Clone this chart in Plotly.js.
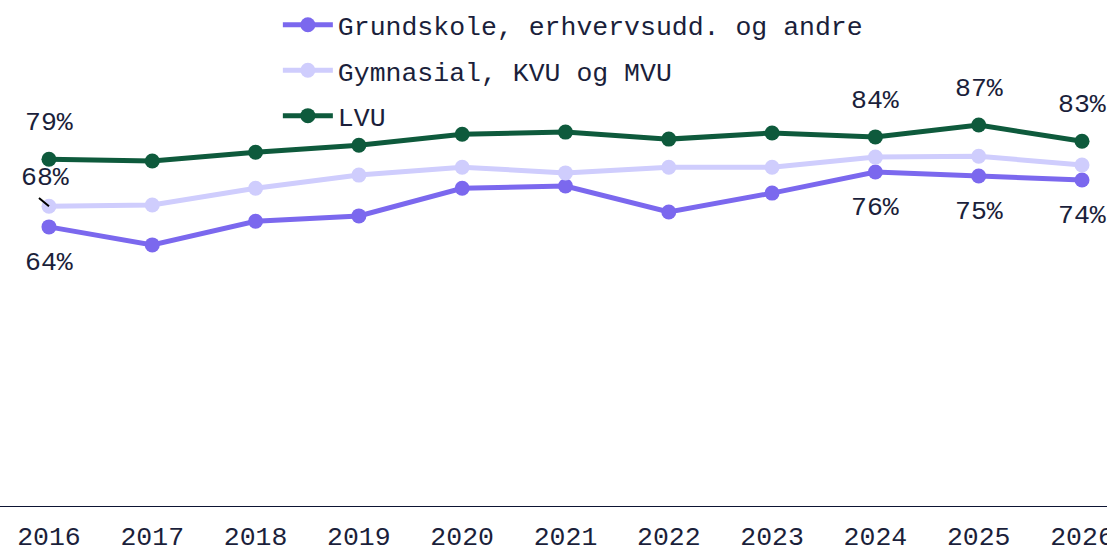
<!DOCTYPE html>
<html>
<head>
<meta charset="utf-8">
<script src="https://cdn.plot.ly/plotly-3.0.1.min.js"></script>
<style>html,body{margin:0;padding:0;background:#fff;}#chart{width:1107px;height:547px;}</style>
</head>
<body>
<div id="chart"></div>
<script>
var years = [2016, 2017, 2018, 2019, 2020, 2021, 2022, 2023, 2024, 2025, 2026];
var seriesNames = ["Grundskole, erhvervsudd. og andre", "Gymnasial, KVU og MVU", "LVU"];
var grundskole = [63.6, 59.5, 64.9, 66.1, 72.4, 72.9, 67.0, 71.3, 76.1, 75.2, 74.3];
var gymnasial = [68.3, 68.6, 72.4, 75.4, 77.2, 75.9, 77.2, 77.2, 79.5, 79.7, 77.7];
var lvu = [79.0, 78.6, 80.6, 82.2, 84.7, 85.2, 83.6, 85.0, 84.1, 86.8, 83.1];
var colors = ["#7b68ee", "#cfcdfd", "#0e5a3c"];
var labelledIdx = [0, 8, 9, 10];

var FONT = "Liberation Mono, Courier New, monospace";
var FS = 26.5;
var TXT = "#1b1f3b";

var series = [grundskole, gymnasial, lvu];
var traces = series.map(function (vals, i) {
  return {
    x: years, y: vals, name: seriesNames[i], type: "scatter", mode: "lines+markers",
    legendgroup: "g" + i,
    line: {color: colors[i], width: 5},
    marker: {color: colors[i], size: 15},
    hoverinfo: "skip"
  };
});

var annotations = [];
function pct(v) { return Math.round(v) + "%"; }
labelledIdx.forEach(function (k) {
  annotations.push({x: years[k], y: lvu[k], text: pct(lvu[k]), showarrow: false, yshift: 36,
    font: {family: FONT, size: FS, color: TXT}});
  annotations.push({x: years[k], y: grundskole[k], text: pct(grundskole[k]), showarrow: false, yshift: -36,
    font: {family: FONT, size: FS, color: TXT}});
});
annotations.push({x: years[0], y: gymnasial[0], text: pct(gymnasial[0]), showarrow: false,
  xshift: -4, yshift: 28, font: {family: FONT, size: FS, color: TXT}});
annotations.push({x: years[0], y: gymnasial[0], text: " ", showarrow: true, arrowhead: 0,
  arrowwidth: 2, arrowcolor: "#000000", ax: -12, ay: -10, font: {size: 1}});

var layout = {
  width: 1107, height: 547,
  margin: {l: 0, r: 0, t: 0, b: 41},
  paper_bgcolor: "#ffffff", plot_bgcolor: "#ffffff",
  font: {family: FONT, size: FS, color: TXT},
  showlegend: true,
  legend: {x: 0.251, y: 0.998, xanchor: "left", yanchor: "top", bgcolor: "rgba(0,0,0,0)",
    traceorder: "grouped", tracegroupgap: 8,
    font: {family: FONT, size: FS, color: TXT}, itemwidth: 50},
  xaxis: {range: [2015.526, 2026.242], tickvals: years, ticktext: years.map(String),
    showgrid: false, zeroline: false, showline: true, linecolor: "#0d1433", linewidth: 1,
    ticks: "", ticklabelstandoff: 6, ticklabeloverflow: "allow",
    tickfont: {family: FONT, size: FS, color: TXT}, fixedrange: true},
  yaxis: {range: [0, 115.3], visible: false, showgrid: false, zeroline: false, fixedrange: true},
  annotations: annotations
};

Plotly.newPlot("chart", traces, layout, {displayModeBar: false, staticPlot: true});
</script>
</body>
</html>
